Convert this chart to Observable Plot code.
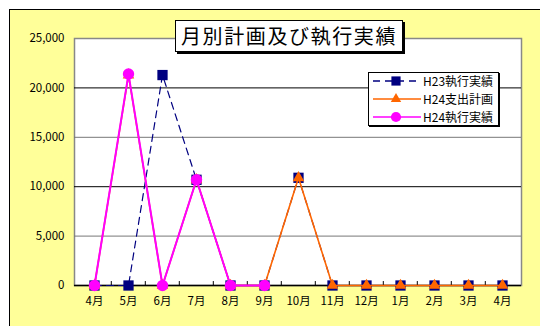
<!DOCTYPE html>
<html><head><meta charset="utf-8">
<script src="https://cdn.jsdelivr.net/npm/d3@7"></script>
<script src="https://cdn.jsdelivr.net/npm/@observablehq/plot@0.6"></script>
<style>
body{margin:0;background:#fff;}
#wrap{position:relative;width:540px;height:326px;overflow:hidden;font-family:"Noto Sans CJK JP","Liberation Sans",sans-serif;}
#frame{position:absolute;left:9px;top:9px;width:600px;height:400px;background:#FFFF99;border:1.5px solid #000;}
#chart{position:absolute;left:0;top:0;}
#title{position:absolute;left:175px;top:20px;width:226px;height:30px;background:#fff;border:1.5px solid #000;box-shadow:2px 2px 0 #000;font-size:20px;line-height:30px;text-align:center;letter-spacing:1.6px;color:#000;}
#legend{position:absolute;left:368px;top:72px;width:129px;height:52px;background:#fff;border:1px solid #000;box-shadow:1px 1px 0 #000;}
</style></head>
<body>
<div id="wrap">
  <div id="frame"></div>
  <div id="chart"></div>
  <div id="title">月別計画及び執行実績</div>
  <div id="legend"></div>
</div>
<script>
const months = ["4月","5月","6月","7月","8月","9月","10月","11月","12月","1月","2月","3月","4月"];
const seriesNames = ["H23執行実績","H24支出計画","H24執行実績"];
const h23 = [0,0,21300,10700,0,0,10900,0,0,0,0,0,0];
const h24plan = [0,21300,0,10700,0,0,10900,0,0,0,0,0,0];
const h24act = [0,21400,0,10700,0,0];
const yTicks = [0,5000,10000,15000,20000,25000];

const colors = ["#000080","#FF6600","#FF00FF"];
const symbols = ["square","triangle","circle"];
const radii = [5.8,4.3,5.7];
const widths = [1.2,1.6,2];
const dashes = ["7,5",null,null];

const W=540,H=326,ML=74,MR=19,MT=38,MB=41;
const step=(W-ML-MR)/months.length;
const toRows = arr => arr.map((v,i)=>({i,v}));
const all=[h23,h24plan,h24act].map(toRows);

const marks=[
  Plot.frame({fill:"white",stroke:"#888",strokeWidth:1.5}),
  Plot.ruleY([5000,15000],{stroke:"#777"}),
  Plot.ruleY([10000,20000],{stroke:"#000"}),
  Plot.ruleX(d3.range(1,months.length),{x:d=>d,dx:-step/2,y1:0,y2:400,stroke:"#000"}),
  Plot.ruleY([0],{stroke:"#000",strokeWidth:1.5})
];
all.forEach((rows,k)=>{
  marks.push(Plot.line(rows,{x:"i",y:"v",stroke:colors[k],strokeWidth:widths[k],strokeDasharray:dashes[k]||undefined}));
  marks.push(Plot.dot(rows,{x:"i",y:"v",symbol:symbols[k],r:radii[k],fill:colors[k],stroke:"none"}));
});

const chart=Plot.plot({
  width:W,height:H,marginLeft:ML,marginRight:MR,marginTop:MT,marginBottom:MB,
  style:{background:"transparent",fontFamily:'"Noto Sans CJK JP","Liberation Sans",sans-serif',fontSize:"11.5px",color:"#000"},
  x:{type:"point",domain:d3.range(months.length),padding:0.5,tickFormat:i=>months[i],tickSize:0,tickPadding:11,label:null},
  y:{domain:[0,25000],ticks:yTicks,tickFormat:d3.format(","),tickSize:0,tickPadding:10,label:null},
  marks
});
document.getElementById("chart").appendChild(chart);

// legend
const lg=d3.select("#legend").append("svg").attr("width",129).attr("height",52);
seriesNames.forEach((name,k)=>{
  const g=lg.append("g").attr("transform",`translate(0,${8+k*18})`);
  g.append("line").attr("x1",4).attr("x2",52).attr("y1",0).attr("y2",0)
    .attr("stroke",colors[k]).attr("stroke-width",1.5).attr("stroke-dasharray",dashes[k]);
  const sym=d3.symbol().type(k===0?d3.symbolSquare:k===1?d3.symbolTriangle:d3.symbolCircle)
    .size(Math.PI*radii[k]*radii[k]*0.8);
  g.append("path").attr("d",sym()).attr("transform","translate(27,0)").attr("fill",colors[k]);
  g.append("text").attr("x",54).attr("y",4.5).attr("font-size",12)
    .attr("font-family",'"Noto Sans CJK JP",sans-serif').text(name);
});
</script>
</body></html>
